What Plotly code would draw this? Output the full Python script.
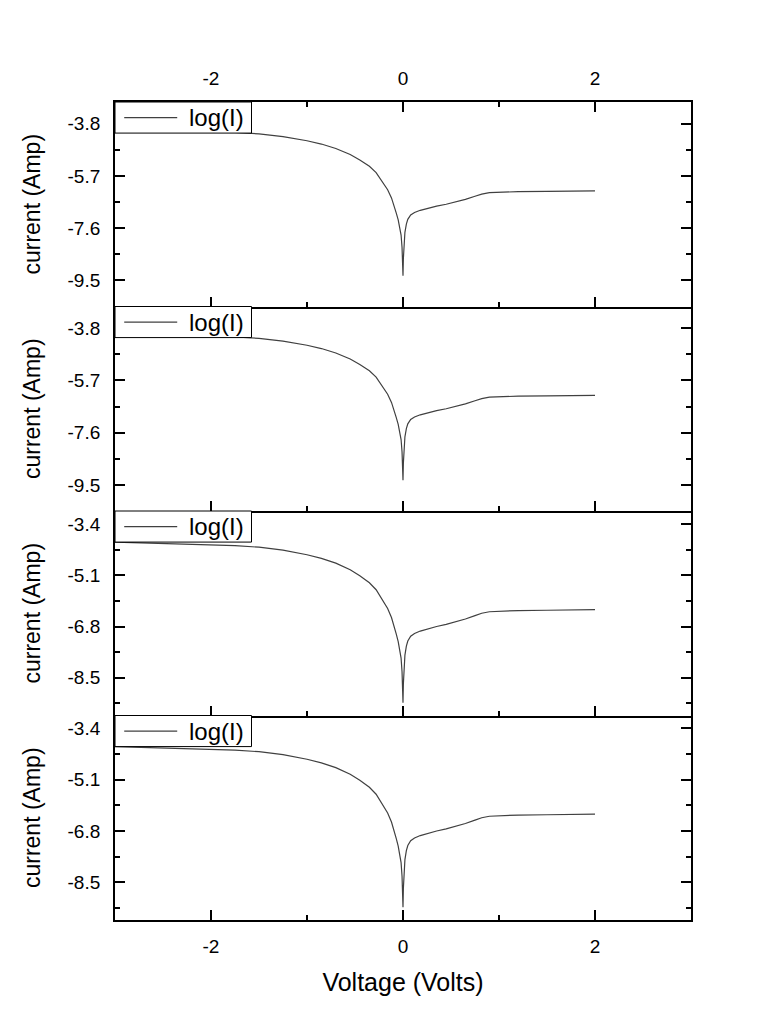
import plotly.graph_objects as go

# ---- data ----
voltage = [-3.0, -2.75, -2.5, -2.25, -2.0, -1.75, -1.5, -1.25, -1.0, -0.85, -0.7, -0.55,
           -0.45, -0.35, -0.28, -0.21, -0.16, -0.12, -0.09, -0.07, -0.05, -0.035, -0.02,
           -0.01, -0.004, 0.0, 0.004, 0.01, 0.02, 0.035, 0.05, 0.08, 0.12, 0.18, 0.25,
           0.35, 0.45, 0.55, 0.65, 0.75, 0.82, 0.9, 1.0, 1.2, 1.5, 1.75, 2.0]
log_current = [-4.00, -4.02, -4.04, -4.06, -4.09, -4.12, -4.17, -4.27, -4.42, -4.54, -4.70, -4.92,
               -5.12, -5.35, -5.58, -5.92, -6.20, -6.50, -6.80, -7.05, -7.30, -7.55, -7.85,
               -8.30, -8.80, -9.33, -8.70, -8.15, -7.75, -7.45, -7.28, -7.12, -7.03, -6.95, -6.88,
               -6.80, -6.73, -6.65, -6.55, -6.44, -6.36, -6.31, -6.29, -6.27, -6.26, -6.25, -6.24]

legend_label = "log(I)"
x_title = "Voltage (Volts)"
y_title = "current (Amp)"

x_tickvals = [-2, 0, 2]
x_ticktext = ["-2", "0", "2"]
x_minor = [-3, -1, 1, 3]

# panels 1-2 and panels 3-4 use different y scales
y_ranges = [[-10.45, -3.01], [-10.45, -3.01], [-9.75, -2.97], [-9.75, -2.97]]
y_tickvals_a = [-3.8, -5.7, -7.6, -9.5]
y_ticktext_a = ["-3.8", "-5.7", "-7.6", "-9.5"]
y_minor_a = [-4.75, -6.65, -8.55, -10.45]
y_tickvals_b = [-3.4, -5.1, -6.8, -8.5]
y_ticktext_b = ["-3.4", "-5.1", "-6.8", "-8.5"]
y_minor_b = [-4.25, -5.95, -7.65, -9.35]

y_ticks = [(y_tickvals_a, y_ticktext_a, y_minor_a), (y_tickvals_a, y_ticktext_a, y_minor_a),
           (y_tickvals_b, y_ticktext_b, y_minor_b), (y_tickvals_b, y_ticktext_b, y_minor_b)]

domains = [[0.75, 1.0], [0.5, 0.75], [0.25, 0.5], [0.0, 0.25]]

FONT = "Liberation Sans, Arial, sans-serif"
LINE_COLOR = "#404040"

fig = go.Figure()
# the page body has an 8px margin, so the figure is drawn 8px smaller
layout = dict(
    width=760, height=1016,
    paper_bgcolor="white", plot_bgcolor="white",
    margin=dict(l=107, r=77, t=94, b=104),
    font=dict(family=FONT, color="black", size=19),
    showlegend=False,
)

shapes = []
annotations = []
for i in range(4):
    n = "" if i == 0 else str(i + 1)
    fig.add_trace(go.Scatter(
        x=voltage, y=log_current, mode="lines", name=legend_label,
        line=dict(color=LINE_COLOR, width=1.2),
        xaxis="x" + n, yaxis="y" + n, showlegend=False,
    ))
    xa = dict(
        range=[-3, 3], domain=[0, 1], anchor="y" + n,
        showline=True, linecolor="black", linewidth=1.8,
        showgrid=False, zeroline=False,
        tickmode="array", tickvals=x_tickvals, ticktext=x_ticktext,
        ticks="inside", ticklen=10, tickwidth=1.6, tickcolor="black",
        minor=dict(tickmode="array", tickvals=x_minor, ticks="inside", ticklen=5,
                   tickwidth=1.6, tickcolor="black"),
        tickfont=dict(size=19, family=FONT),
        ticklabelstandoff=8,
    )
    if i == 0:
        xa.update(side="top", mirror="allticks", showticklabels=True)
    elif i == 3:
        xa.update(side="bottom", mirror=False, showticklabels=True,
                  title=dict(text=x_title, font=dict(size=25, family=FONT), standoff=18))
    else:
        xa.update(side="bottom", mirror=False, showticklabels=False)
    if i > 0:
        xa["matches"] = "x"
    tv, tt, mn = y_ticks[i]
    ya = dict(
        range=y_ranges[i], domain=domains[i], anchor="x" + n,
        showline=True, linecolor="black", linewidth=1.8, mirror="allticks",
        showgrid=False, zeroline=False,
        tickmode="array", tickvals=tv, ticktext=tt,
        ticks="inside", ticklen=10, tickwidth=1.6, tickcolor="black",
        minor=dict(tickmode="array", tickvals=mn, ticks="inside", ticklen=5,
                   tickwidth=1.6, tickcolor="black"),
        tickfont=dict(size=19, family=FONT),
        ticklabelstandoff=9,
        title=dict(text=y_title, font=dict(size=23, family=FONT), standoff=20),
    )
    layout["xaxis" + n] = xa
    layout["yaxis" + n] = ya

    # legend box in the upper-left corner of each panel
    xr, yr = "x" + n + " domain", "y" + n + " domain"
    shapes.append(dict(type="rect", xref=xr, yref=yr, x0=0, x1=0.237, y0=0.848, y1=1.0,
                       fillcolor="white", line=dict(color="black", width=1), layer="above"))
    shapes.append(dict(type="line", xref=xr, yref=yr, x0=0.016, x1=0.108, y0=0.924, y1=0.924,
                       line=dict(color=LINE_COLOR, width=1.2), layer="above"))
    annotations.append(dict(text=legend_label, xref=xr, yref=yr, x=0.125, y=0.924,
                            xanchor="left", yanchor="middle", showarrow=False,
                            font=dict(size=24, family=FONT, color="black")))

layout["shapes"] = shapes
layout["annotations"] = annotations
fig.update_layout(**layout)
fig.write_html("out.html")
